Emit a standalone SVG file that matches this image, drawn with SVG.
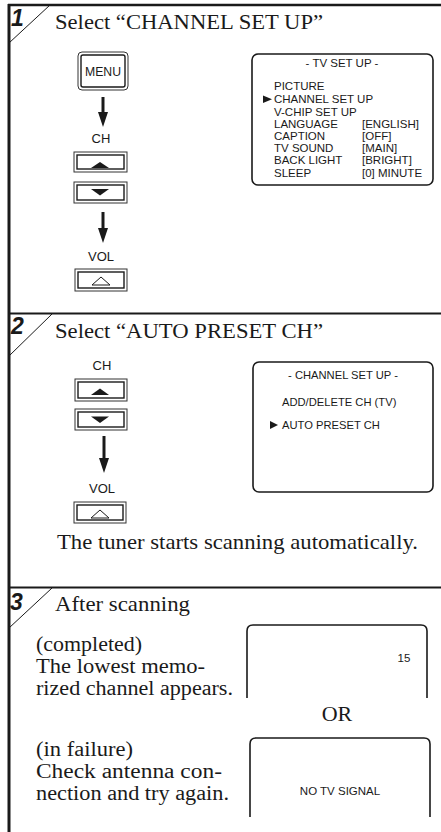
<svg xmlns="http://www.w3.org/2000/svg" width="441" height="832" viewBox="0 0 441 832">
<style>
.frame{stroke:#1a1a1a;fill:none}
.serif{font-family:"Liberation Serif","Times New Roman",serif;font-size:22px;fill:#1a1a1a}
.body{font-family:"Liberation Serif","Times New Roman",serif;font-size:20px;fill:#1a1a1a}
.num{font-family:"Liberation Sans",Arial,sans-serif;font-size:23px;font-weight:bold;font-style:italic;fill:#1a1a1a}
.key{font-family:"Liberation Sans",Arial,sans-serif;font-size:13px;fill:#1a1a1a;text-anchor:middle}
.osd{font-family:"Liberation Sans",Arial,sans-serif;font-size:11.5px;fill:#1a1a1a}
.osd2{font-family:"Liberation Sans",Arial,sans-serif;font-size:11.2px;fill:#1a1a1a}
.btnO{fill:#fff;stroke:#333;stroke-width:1}
.btnI{fill:#fff;stroke:#1a1a1a;stroke-width:1.4}
.scr{fill:#fff;stroke:#1a1a1a;stroke-width:1.6}
.arrow{stroke:#1a1a1a;stroke-width:3;fill:none}
</style>
<defs>
<marker id="ah" viewBox="0 0 15 10" refX="5" refY="5" markerWidth="15" markerHeight="10" markerUnits="userSpaceOnUse" orient="auto">
<path d="M0,0 L15,5 L0,10 z" fill="#1a1a1a"/>
</marker>
</defs>
<rect width="441" height="832" fill="#fff"/>

<g id="frame">
<line class="frame" x1="8" y1="5" x2="441" y2="5" stroke-width="2.5"/>
<line class="frame" x1="9" y1="4" x2="9" y2="832" stroke-width="3"/>
<line class="frame" x1="8" y1="313.5" x2="441" y2="313.5" stroke-width="2"/>
<line class="frame" x1="8" y1="587.5" x2="441" y2="587.5" stroke-width="2"/>
<line class="frame" x1="50" y1="5" x2="9" y2="43" stroke-width="1"/>
<line class="frame" x1="52" y1="314" x2="9" y2="356" stroke-width="1"/>
<line class="frame" x1="52" y1="588" x2="9" y2="628" stroke-width="1"/>
<text class="num" x="11" y="26">1</text>
<text class="num" x="11" y="334">2</text>
<text class="num" x="10" y="610">3</text>
</g>

<g id="step1">
<text class="serif" x="55" y="29" textLength="268" lengthAdjust="spacingAndGlyphs">Select “CHANNEL SET UP”</text>
<g id="menu-key">
<rect class="btnO" x="78" y="52" width="50" height="38" rx="4" stroke-width="1.3"/>
<rect class="btnI" x="81" y="55" width="44" height="32" rx="2" stroke-width="1"/>
<text class="key" x="103" y="75.5" font-size="10.5" textLength="36" lengthAdjust="spacingAndGlyphs">MENU</text>
</g>
<text id="ch-label-1" class="key" x="101" y="143">CH</text>
<g id="ch-up-1">
<rect class="btnO" x="74" y="152" width="53" height="20"/>
<rect class="btnI" x="77" y="155" width="47" height="14"/>
<polygon points="91,168 109,168 100,162" fill="#1a1a1a"/>
</g>
<g id="ch-down-1">
<rect class="btnO" x="74" y="182" width="53" height="21"/>
<rect class="btnI" x="77" y="185" width="47" height="15"/>
<polygon points="91,189 109,189 100,195.5" fill="#1a1a1a"/>
</g>
<text id="vol-label-1" class="key" x="101" y="261">VOL</text>
<g id="vol-up-1">
<rect class="btnO" x="75" y="269" width="52" height="22"/>
<rect class="btnI" x="78" y="272" width="46" height="16"/>
<polygon points="92,285 110,285 101,277" fill="none" stroke="#1a1a1a" stroke-width="1"/>
</g>
<g id="screen-tv-setup">
<rect class="scr" x="252" y="54" width="181" height="131" rx="6"/>
<text class="osd" x="342" y="67" text-anchor="middle">- TV SET UP -</text>
<text class="osd" x="274" y="90">PICTURE</text>
<polygon points="263,95.5 263,103 272,99.2" fill="#1a1a1a"/>
<text class="osd" x="274" y="103">CHANNEL SET UP</text>
<text class="osd" x="274" y="115.5">V-CHIP SET UP</text>
<text class="osd" x="274" y="127.5">LANGUAGE</text>
<text class="osd" x="362" y="127.5">[ENGLISH]</text>
<text class="osd" x="274" y="139.5">CAPTION</text>
<text class="osd" x="362" y="139.5">[OFF]</text>
<text class="osd" x="274" y="152">TV SOUND</text>
<text class="osd" x="362" y="152">[MAIN]</text>
<text class="osd" x="274" y="164">BACK LIGHT</text>
<text class="osd" x="362" y="164">[BRIGHT]</text>
<text class="osd" x="274" y="176.5">SLEEP</text>
<text class="osd" x="362" y="176.5">[0] MINUTE</text>
</g>
</g>

<g id="step2">
<text class="serif" x="55" y="338" textLength="268" lengthAdjust="spacingAndGlyphs">Select “AUTO PRESET CH”</text>
<text id="ch-label-2" class="key" x="102" y="370">CH</text>
<g id="ch-up-2">
<rect class="btnO" x="75" y="379" width="52" height="22"/>
<rect class="btnI" x="78" y="382" width="46" height="16"/>
<polygon points="91,395 109,395 100,388.5" fill="#1a1a1a"/>
</g>
<g id="ch-down-2">
<rect class="btnO" x="75" y="409" width="52" height="21"/>
<rect class="btnI" x="78" y="412" width="46" height="15"/>
<polygon points="91,416.5 109,416.5 100,423" fill="#1a1a1a"/>
</g>
<text id="vol-label-2" class="key" x="102" y="493">VOL</text>
<g id="vol-up-2">
<rect class="btnO" x="74" y="502" width="52" height="21"/>
<rect class="btnI" x="77" y="505" width="46" height="15"/>
<polygon points="91,518 109,518 100,510" fill="none" stroke="#1a1a1a" stroke-width="1"/>
</g>
<g id="screen-channel-setup">
<rect class="scr" x="253" y="362" width="180" height="130" rx="6"/>
<text class="osd2" x="343" y="379" text-anchor="middle">- CHANNEL SET UP -</text>
<text class="osd2" x="282" y="406">ADD/DELETE CH (TV)</text>
<polygon points="270,421 270,429 278,425" fill="#1a1a1a"/>
<text class="osd2" x="282" y="429">AUTO PRESET CH</text>
</g>
<text class="serif" x="57" y="549" textLength="361" lengthAdjust="spacingAndGlyphs">The tuner starts scanning automatically.</text>
</g>

<g id="step3">
<text class="serif" x="55" y="611" textLength="135" lengthAdjust="spacingAndGlyphs">After scanning</text>
<text class="body" x="36" y="651" textLength="106" lengthAdjust="spacingAndGlyphs">(completed)</text>
<text class="body" x="36" y="673" textLength="169" lengthAdjust="spacingAndGlyphs">The lowest memo-</text>
<text class="body" x="36" y="695" textLength="197" lengthAdjust="spacingAndGlyphs">rized channel appears.</text>
<g id="screen-channel">
<path class="scr" fill="none" d="M247,698 V631 Q247,625 253,625 H421 Q427,625 427,631 V698"/>
<text class="osd" x="404" y="662" text-anchor="middle">15</text>
</g>
<text class="serif" x="337" y="721" text-anchor="middle">OR</text>
<text class="body" x="36" y="756" textLength="97" lengthAdjust="spacingAndGlyphs">(in failure)</text>
<text class="body" x="36" y="778" textLength="186" lengthAdjust="spacingAndGlyphs">Check antenna con-</text>
<text class="body" x="36" y="800" textLength="193" lengthAdjust="spacingAndGlyphs">nection and try again.</text>
<g id="screen-no-signal">
<path class="scr" fill="none" d="M250,817 V744 Q250,738 256,738 H424 Q430,738 430,744 V817"/>
<text class="osd" x="340" y="795" text-anchor="middle">NO TV SIGNAL</text>
</g>
</g>

<g id="connectors">
<line class="arrow" x1="103" y1="97" x2="103" y2="117" marker-end="url(#ah)"/>
<line class="arrow" x1="103" y1="212" x2="103" y2="233" marker-end="url(#ah)"/>
<line class="arrow" x1="104" y1="436" x2="104" y2="463" marker-end="url(#ah)"/>
</g>
</svg>
